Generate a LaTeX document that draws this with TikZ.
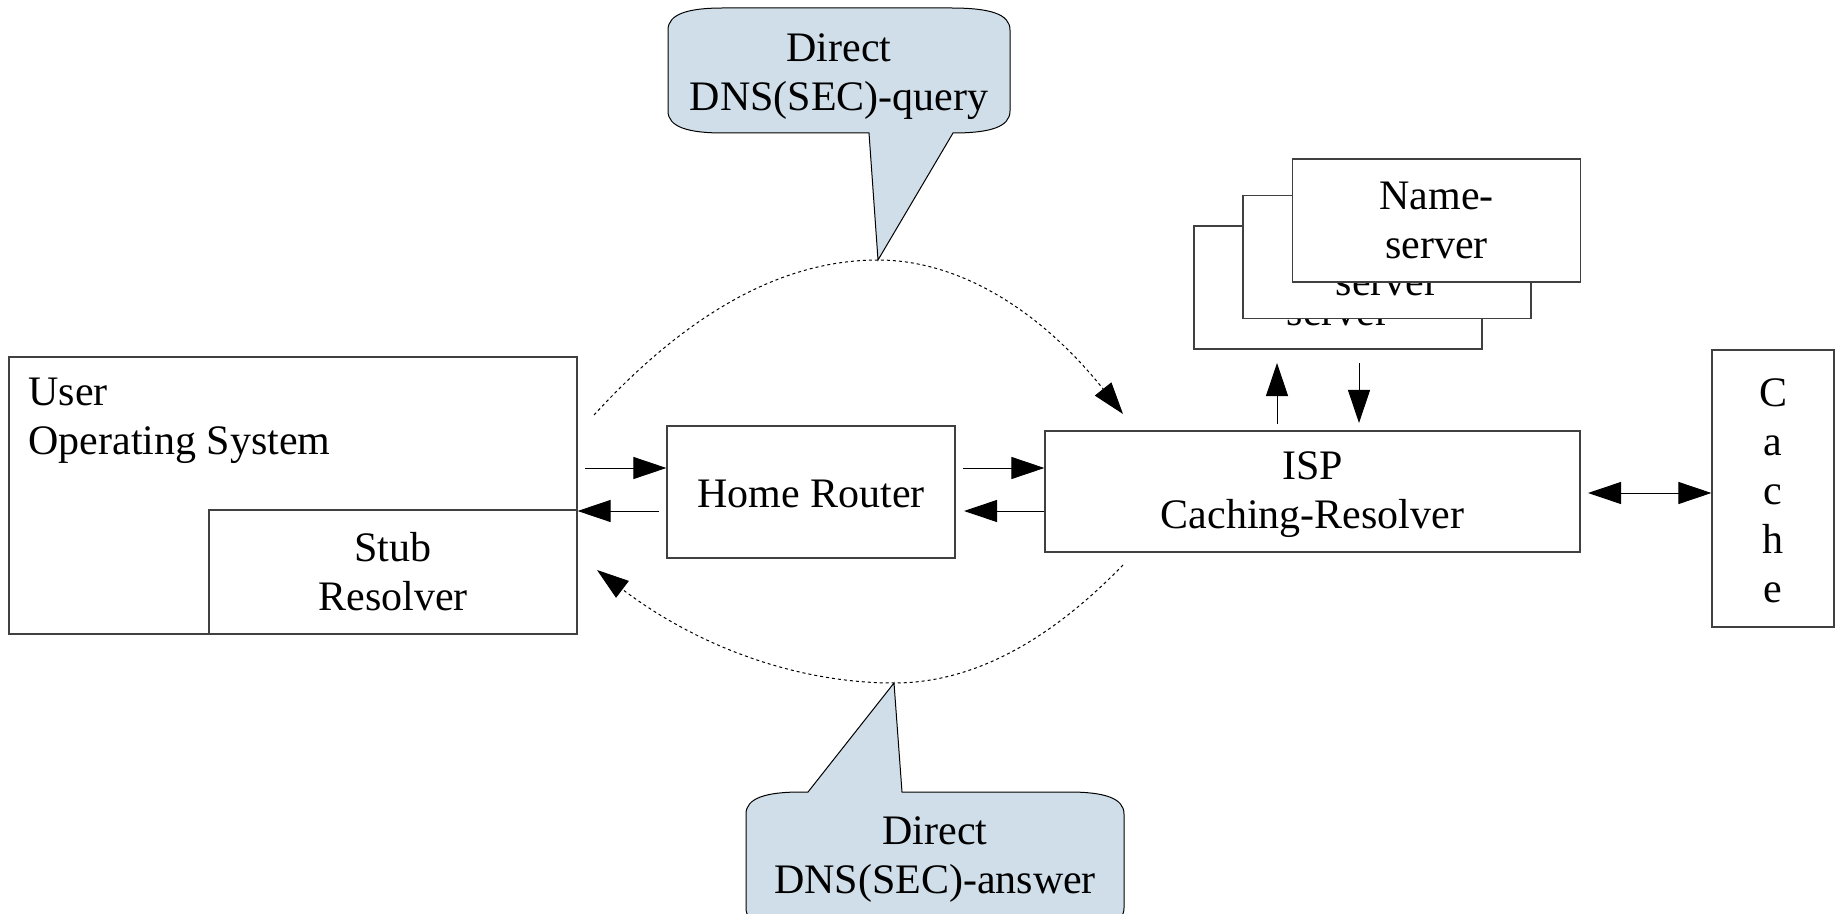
\documentclass[tikz,border=0pt]{standalone}
\usepackage{fontspec}
\setmainfont{Liberation Serif}
\usetikzlibrary{arrows.meta}
\definecolor{callfill}{RGB}{207,222,232}
\begin{document}
\begin{tikzpicture}[x=0.5pt,y=-0.5pt,
  box/.style={draw=black!75,line width=0.6pt,fill=white,rectangle,inner sep=0pt,align=center,font=\fontsize{21}{24.5}\selectfont},
  txt/.style={inner sep=0pt,align=center,font=\fontsize{21}{24.5}\selectfont},
  arr/.style={line width=0.5pt,-{Triangle[length=16.5pt,width=11pt]}},
  darr/.style={line width=0.5pt,dash pattern=on 1.5pt off 1.5pt,-{Triangle[length=16pt,width=10.5pt]}},
  call/.style={draw=black,line width=0.5pt,fill=callfill}]
\clip (0,0) rectangle (1835,914);
% main boxes
\node[box,minimum width=284pt,minimum height=138.5pt] (user) at (293,495.5) {};
\node[txt,anchor=north west,align=left] (usertxt) at (28,378) {User\\Operating System};
\node[box,minimum width=184pt,minimum height=62pt] (stub) at (393,572) {Stub\\Resolver};
\node[box,minimum width=144pt,minimum height=66pt] (hr) at (811,492) {};
\node[txt] (hrtxt) at (811,494) {Home Router};
\node[box,minimum width=267.5pt,minimum height=60.5pt] (isp) at (1312.5,491.5) {};
\node[txt] (isptxt) at (1312.5,495) {ISP\\Caching-Resolver};
\node[box,minimum width=61pt,minimum height=138.5pt] (cache) at (1773,488.5) {};
\node[txt] (cachetxt) at (1773,491) {C\\a\\c\\h\\e};
% name servers (back to front)
\node[box,minimum width=144pt,minimum height=61.5pt] (ns3) at (1338,287.5) {Name-\\server};
\node[box,minimum width=144pt,minimum height=61.5pt] (ns2) at (1387,257) {Name-\\server};
\node[box,minimum width=144pt,minimum height=61.5pt] (ns1) at (1436.5,220.5) {Name-\\server};
% horizontal arrows
\coordinate (a1) at (585,468);
\coordinate (a2) at (659,511);
\coordinate (a3) at (963,468);
\coordinate (a4) at (964,511);
\draw[arr] (a1) -- (a1 -| hr.west);
\draw[arr] (a2) -- (a2 -| user.east);
\draw[arr] (a3) -- (a3 -| isp.west);
\draw[arr] (a4 -| isp.west) -- (a4);
% vertical arrows
\coordinate (u1) at (1277,424);
\coordinate (u2) at (1277,363);
\coordinate (d1) at (1359,363);
\coordinate (d2) at (1359,423);
\draw[arr] (u1) -- (u2);
\draw[arr] (d1) -- (d2);
% cache double arrow
\coordinate (c1) at (1588,493);
\draw[line width=0.5pt,{Triangle[length=16.5pt,width=11pt]}-{Triangle[length=16.5pt,width=11pt]}] (c1) -- (c1 -| cache.west);
% dashed curves
\coordinate (qs) at (594,415);
\coordinate (qt) at (878,260);
\coordinate (qe) at (1123,414);
\draw[darr] (qs) .. controls (688.7,311.7) and (783.3,260) .. (qt) .. controls (959.7,260) and (1041.3,311.3) .. (qe);
\coordinate (as) at (1123,565);
\coordinate (at) at (894,683);
\coordinate (ae) at (597,570);
\draw[darr] (as) .. controls (1046.7,643.7) and (970.3,683) .. (at) .. controls (795,683) and (696,645.3) .. (ae);
% callouts
\draw[call] (723,8) -- (951,8) .. controls (990,8) and (1010,14) .. (1010,30) -- (1010,111) .. controls (1010,127) and (990,133) .. (953,133) -- (qt) -- (869,133) -- (723,133) .. controls (688,133) and (668,127) .. (668,111) -- (668,30) .. controls (668,14) and (688,8) .. (723,8) -- cycle;
\node[txt] (qtxt) at (839,77) {Direct\\DNS(SEC)-query};
\draw[call] (801,792) -- (808,792) -- (at) -- (902,792) -- (1069,792) .. controls (1104,792) and (1124,798) .. (1124,814) -- (1124,908) .. controls (1124,924) and (1104,930) .. (1069,930) -- (801,930) .. controls (766,930) and (746,924) .. (746,908) -- (746,814) .. controls (746,798) and (766,792) .. (801,792) -- cycle;
\node[txt] (atxt) at (935,860) {Direct\\DNS(SEC)-answer};
\end{tikzpicture}
\end{document}
